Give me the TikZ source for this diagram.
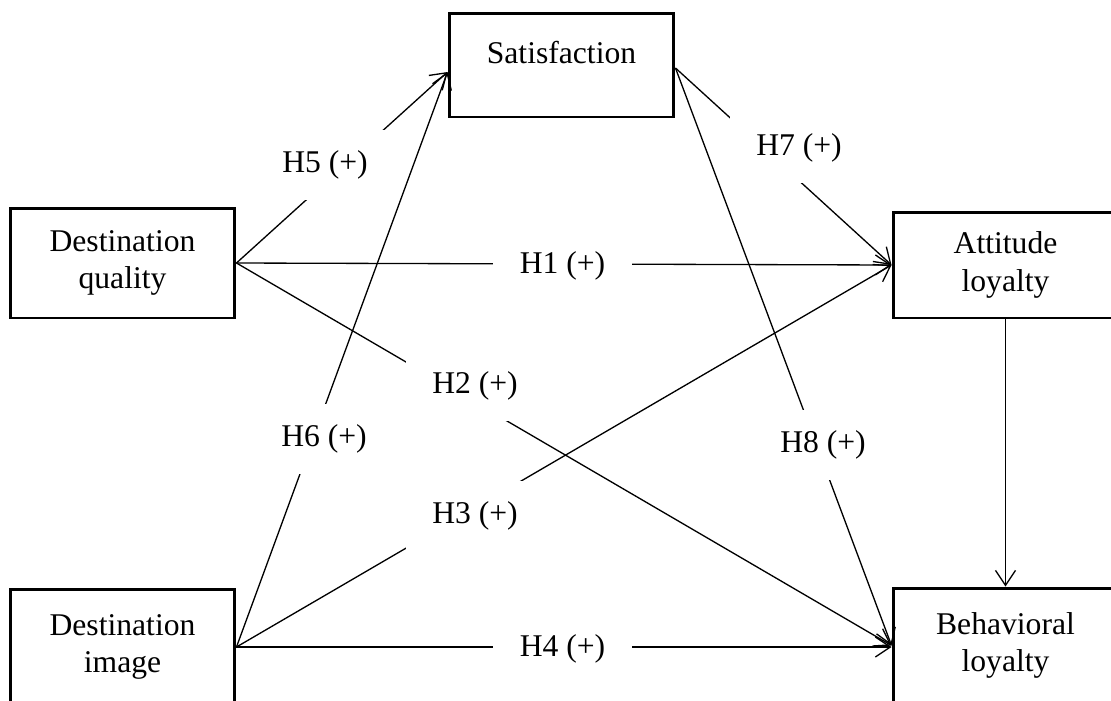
\documentclass[tikz,border=0pt]{standalone}
\usepackage{fontspec}
\setmainfont{Liberation Serif}
\usetikzlibrary{arrows.meta}
\tikzset{
construct/.style={draw=black,line width=1.7pt,fill=white,minimum width=4.5cm,align=center,inner sep=0pt,font=\fontsize{18}{21.5}\selectfont},
hyp/.style={fill=white,minimum width=2.78cm,minimum height=1.4cm,inner sep=0pt,font=\fontsize{18}{21.5}\selectfont},
effect/.style={-{Straight Barb[length=3mm,width=4mm]},line width=0.75pt}
}

\begin{document}
\begin{tikzpicture}[x=0.02cm,y=-0.02cm]
\useasboundingbox (0,0) rectangle (1111,700);
\clip (0,0) rectangle (1111,700);
% constructs
\node[construct,minimum height=2.08cm,text height=0.5cm,text depth=0.58cm] (sat) at (561.5,65) {Satisfaction};
\node[construct,minimum height=2.2cm] (dq) at (122.5,263) {Destination\\quality};
\node[construct,minimum height=2.3cm] (di) at (122.5,647) {Destination\\image};
\node[construct,minimum height=2.12cm] (att) at (1005.5,265) {Attitude\\loyalty};
\node[construct,minimum height=2.3cm] (beh) at (1005.5,645.5) {Behavioral\\loyalty};
\coordinate (satin) at ([yshift=-0.14cm]sat.west);
\coordinate (satout) at ([yshift=-0.06cm]sat.east);
% paths
\draw[effect] (dq.east) -- (satin);
\draw[effect] (dq.east) -- (att.west);
\draw[effect] (dq.east) -- (beh.west);
\draw[effect] (di.east) -- (satin);
\draw[effect] (di.east) -- (att.west);
\draw[effect] (di.east) -- (di.east -| beh.west);
\draw[effect] (satout) -- (att.west);
\draw[effect] (satout) -- (beh.west);
\draw[effect] (att.south) -- (beh.north);
% hypotheses
\node[hyp] (h1) at (562.5,266) {H1 (+)};
\node[hyp] (h2) at (475,386) {H2 (+)};
\node[hyp] (h3) at (475,516) {H3 (+)};
\node[hyp] (h4) at (562.5,649) {H4 (+)};
\node[hyp] (h5) at (325,165) {H5 (+)};
\node[hyp] (h6) at (324,439) {H6 (+)};
\node[hyp] (h7) at (799,148) {H7 (+)};
\node[hyp] (h8) at (823,445) {H8 (+)};
\end{tikzpicture}
\end{document}
